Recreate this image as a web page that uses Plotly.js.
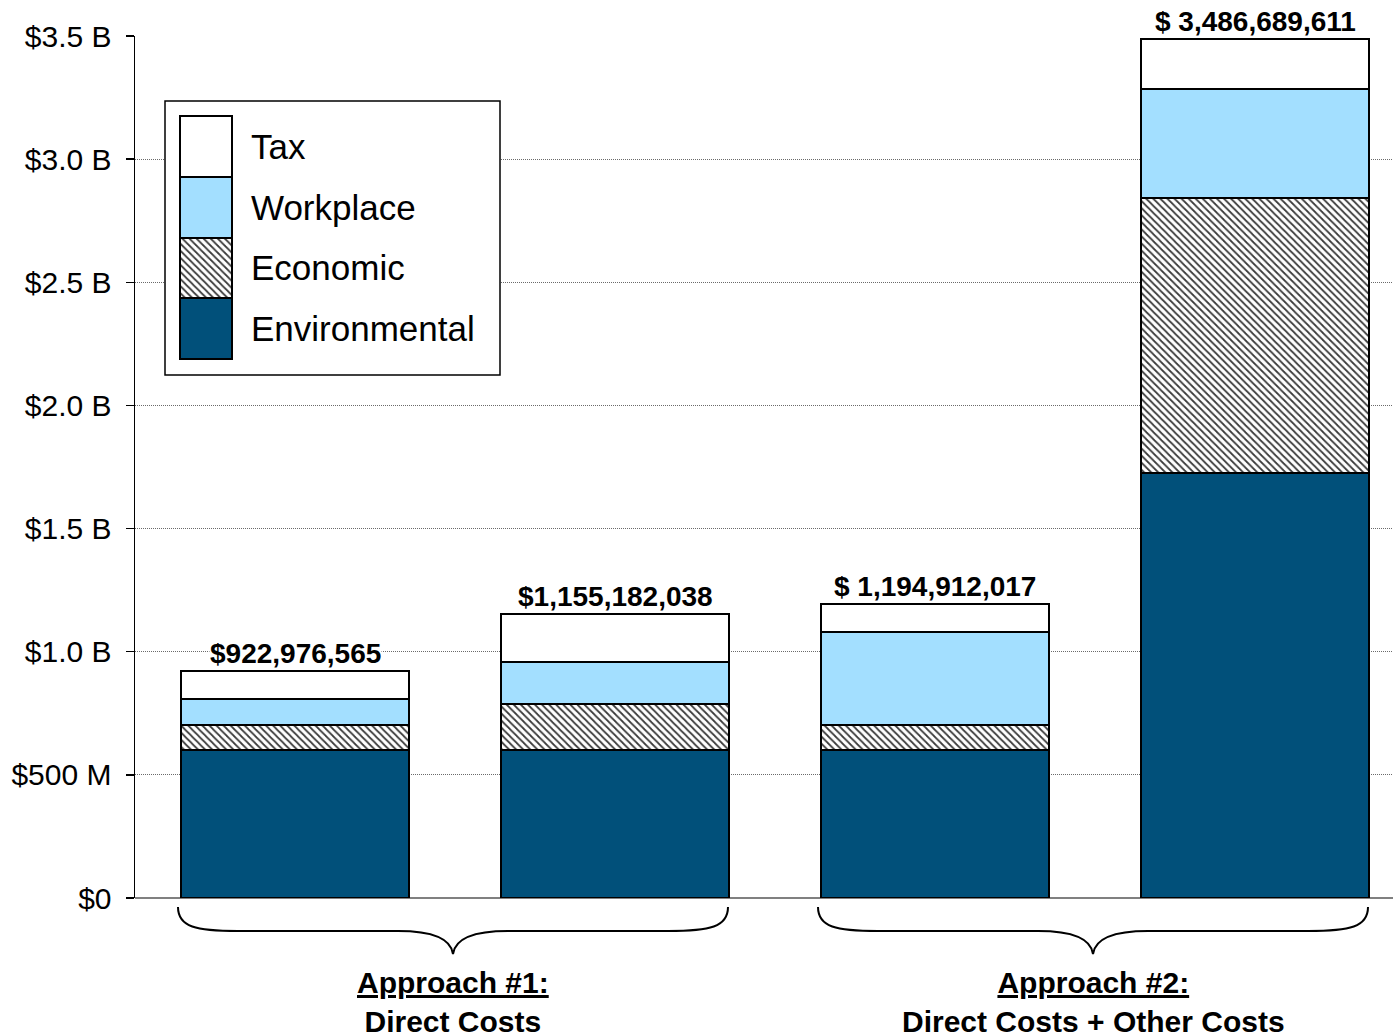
<!DOCTYPE html>
<html>
<head>
<meta charset="utf-8">
<script src="https://cdn.plot.ly/plotly-3.0.1.min.js"></script>
<style>
  html, body { margin: 0; padding: 0; background: #fff; }
  #chart { width: 1393px; height: 1034px; }
</style>
</head>
<body>
<div id="chart"></div>
<script>
// ---- data ----
const categories = ['Approach 1 - bar 1', 'Approach 1 - bar 2', 'Approach 2 - bar 1', 'Approach 2 - bar 2'];
const environmental = [600e6, 600e6, 600e6, 1725e6];
const economic      = [101e6, 186e6, 101e6, 1117e6];
const workplace     = [109e6, 171e6, 381e6, 441e6];
const tax           = [113e6, 198e6, 113e6, 204e6];
const totalLabels   = ['$922,976,565', '$1,155,182,038', '$ 1,194,912,017', '$ 3,486,689,611'];
const seriesNames   = ['Environmental', 'Economic', 'Workplace', 'Tax'];
const tickVals      = [0, 0.5e9, 1.0e9, 1.5e9, 2.0e9, 2.5e9, 3.0e9, 3.5e9];
const tickText      = ['$0', '$500 M', '$1.0 B', '$1.5 B', '$2.0 B', '$2.5 B', '$3.0 B', '$3.5 B'];
const groupLabels   = ['<b><u>Approach #1:</u></b><br><b>Direct Costs</b>',
                       '<b><u>Approach #2:</u></b><br><b>Direct Costs + Other Costs</b>'];

// ---- styling ----
const FONT = 'Arial, "Liberation Sans", Helvetica, sans-serif';
const W = 1393, H = 1034;
const M = {l: 135, r: 0, t: 36, b: 136};
const PW = W - M.l - M.r, PH = H - M.t - M.b;
const px = x => (x - M.l) / PW;
const py = y => (H - M.b - y) / PH;
const P = (x, y) => px(x).toFixed(5) + ',' + py(y).toFixed(5);

// legend box geometry (pixels)
const LB = {x0: 165, x1: 500, y0: 101, y1: 375};
const SW = {x0: 180, x1: 232, bottom: 359, h: 60.75};

const outline = {color: '#000', width: 2};
const styles = {
  Environmental: {color: '#01507A', line: outline},
  Economic: {color: '#ffffff', line: outline,
             pattern: {shape: '\\', fgcolor: '#3a3a3a', bgcolor: '#ffffff', size: 5, solidity: 0.35, fillmode: 'replace'}},
  Workplace: {color: '#A3DFFF', line: outline},
  Tax: {color: '#ffffff', line: outline}
};
const seriesData = [environmental, economic, workplace, tax];

const traces = [];
seriesNames.forEach((name, i) => {
  traces.push({
    type: 'bar', name: name, x: categories, y: seriesData[i],
    marker: styles[name], width: 0.7125, showlegend: false, hoverinfo: 'name+y'
  });
});

// legend: white panel + stacked swatches on an auxiliary axis covering the legend box
const yLo = -(LB.y1 - SW.bottom) / SW.h;
const yHi = (SW.bottom - LB.y0) / SW.h;
traces.push({
  type: 'bar', x: [(LB.x1 - LB.x0) / 2], y: [yHi - yLo], base: [yLo], width: [LB.x1 - LB.x0],
  xaxis: 'x2', yaxis: 'y2', marker: {color: '#ffffff', line: {width: 0}},
  showlegend: false, hoverinfo: 'skip'
});
seriesNames.forEach((name) => {
  traces.push({
    type: 'bar', name: name, x: [(SW.x0 + SW.x1) / 2 - LB.x0], y: [1], width: [SW.x1 - SW.x0],
    xaxis: 'x2', yaxis: 'y2', marker: styles[name], showlegend: false, hoverinfo: 'skip'
  });
});

const totals = categories.map((c, i) => environmental[i] + economic[i] + workplace[i] + tax[i]);

const annotations = [];
categories.forEach((c, i) => {
  annotations.push({
    x: c, y: totals[i], xref: 'x', yref: 'y', text: '<b>' + totalLabels[i] + '</b>',
    showarrow: false, yanchor: 'bottom', xanchor: 'center', yshift: 1,
    bgcolor: '#ffffff', borderpad: 0,
    font: {family: FONT, size: 28, color: '#000'}
  });
});
// legend texts
seriesNames.forEach((name, i) => {
  annotations.push({
    x: px(249), y: i + 0.5, xref: 'paper', yref: 'y2', text: name,
    showarrow: false, xanchor: 'left', yanchor: 'middle',
    font: {family: FONT, size: 35, color: '#000'}
  });
});
// group labels
const groupCenters = [453, 1093];
groupLabels.forEach((t, i) => {
  annotations.push({
    x: px(groupCenters[i]), y: py(964), xref: 'paper', yref: 'paper', text: t,
    showarrow: false, xanchor: 'center', yanchor: 'top', align: 'center',
    font: {family: FONT, size: 30, color: '#000'}
  });
});

function bracePath(x0, x1, top, mid, tip) {
  const c = (x0 + x1) / 2;
  return 'M' + P(x0, top) +
    ' C' + P(x0, top + 20) + ' ' + P(x0 + 18, mid) + ' ' + P(x0 + 60, mid) +
    ' L' + P(c - 55, mid) +
    ' C' + P(c - 20, mid) + ' ' + P(c - 2, mid + 8) + ' ' + P(c, tip) +
    ' C' + P(c + 2, mid + 8) + ' ' + P(c + 20, mid) + ' ' + P(c + 55, mid) +
    ' L' + P(x1 - 60, mid) +
    ' C' + P(x1 - 18, mid) + ' ' + P(x1, top + 20) + ' ' + P(x1, top);
}

const shapes = [
  {type: 'rect', xref: 'paper', yref: 'paper', x0: px(LB.x0), x1: px(LB.x1), y0: py(LB.y1), y1: py(LB.y0),
   fillcolor: 'rgba(0,0,0,0)', line: {color: '#000', width: 1.5}, layer: 'above'},
  {type: 'path', xref: 'paper', yref: 'paper', path: bracePath(178, 728, 907, 931, 954),
   line: {color: '#000', width: 2}},
  {type: 'path', xref: 'paper', yref: 'paper', path: bracePath(818, 1368, 907, 931, 954),
   line: {color: '#000', width: 2}}
];

const layout = {
  width: W, height: H, margin: M,
  paper_bgcolor: '#fff', plot_bgcolor: '#fff',
  barmode: 'stack', showlegend: false,
  font: {family: FONT, color: '#000'},
  xaxis: {type: 'category', categoryorder: 'array', categoryarray: categories,
          range: [-0.5, -0.5 + PW / 320], showticklabels: false, showgrid: false,
          zeroline: false, showline: false, ticks: '', fixedrange: true},
  yaxis: {range: [0, 3.5e9], tickvals: tickVals, ticktext: tickText,
          tickfont: {family: FONT, size: 30, color: '#000'},
          showgrid: true, gridcolor: '#6a6a6a', gridwidth: 1, griddash: '1px,1px',
          zeroline: true, zerolinecolor: '#808080', zerolinewidth: 2,
          showline: true, linecolor: '#000', linewidth: 1.5,
          ticks: 'outside', ticklen: 8, tickcolor: '#000', tickwidth: 1.5,
          ticklabelstandoff: 8, fixedrange: true},
  xaxis2: {domain: [px(LB.x0), px(LB.x1)], anchor: 'y2', range: [0, LB.x1 - LB.x0], visible: false, fixedrange: true},
  yaxis2: {domain: [py(LB.y1), py(LB.y0)], anchor: 'x2', range: [yLo, yHi], visible: false, fixedrange: true},
  annotations: annotations,
  shapes: shapes
};

Plotly.newPlot('chart', traces, layout, {displayModeBar: false, staticPlot: true});
</script>
</body>
</html>
